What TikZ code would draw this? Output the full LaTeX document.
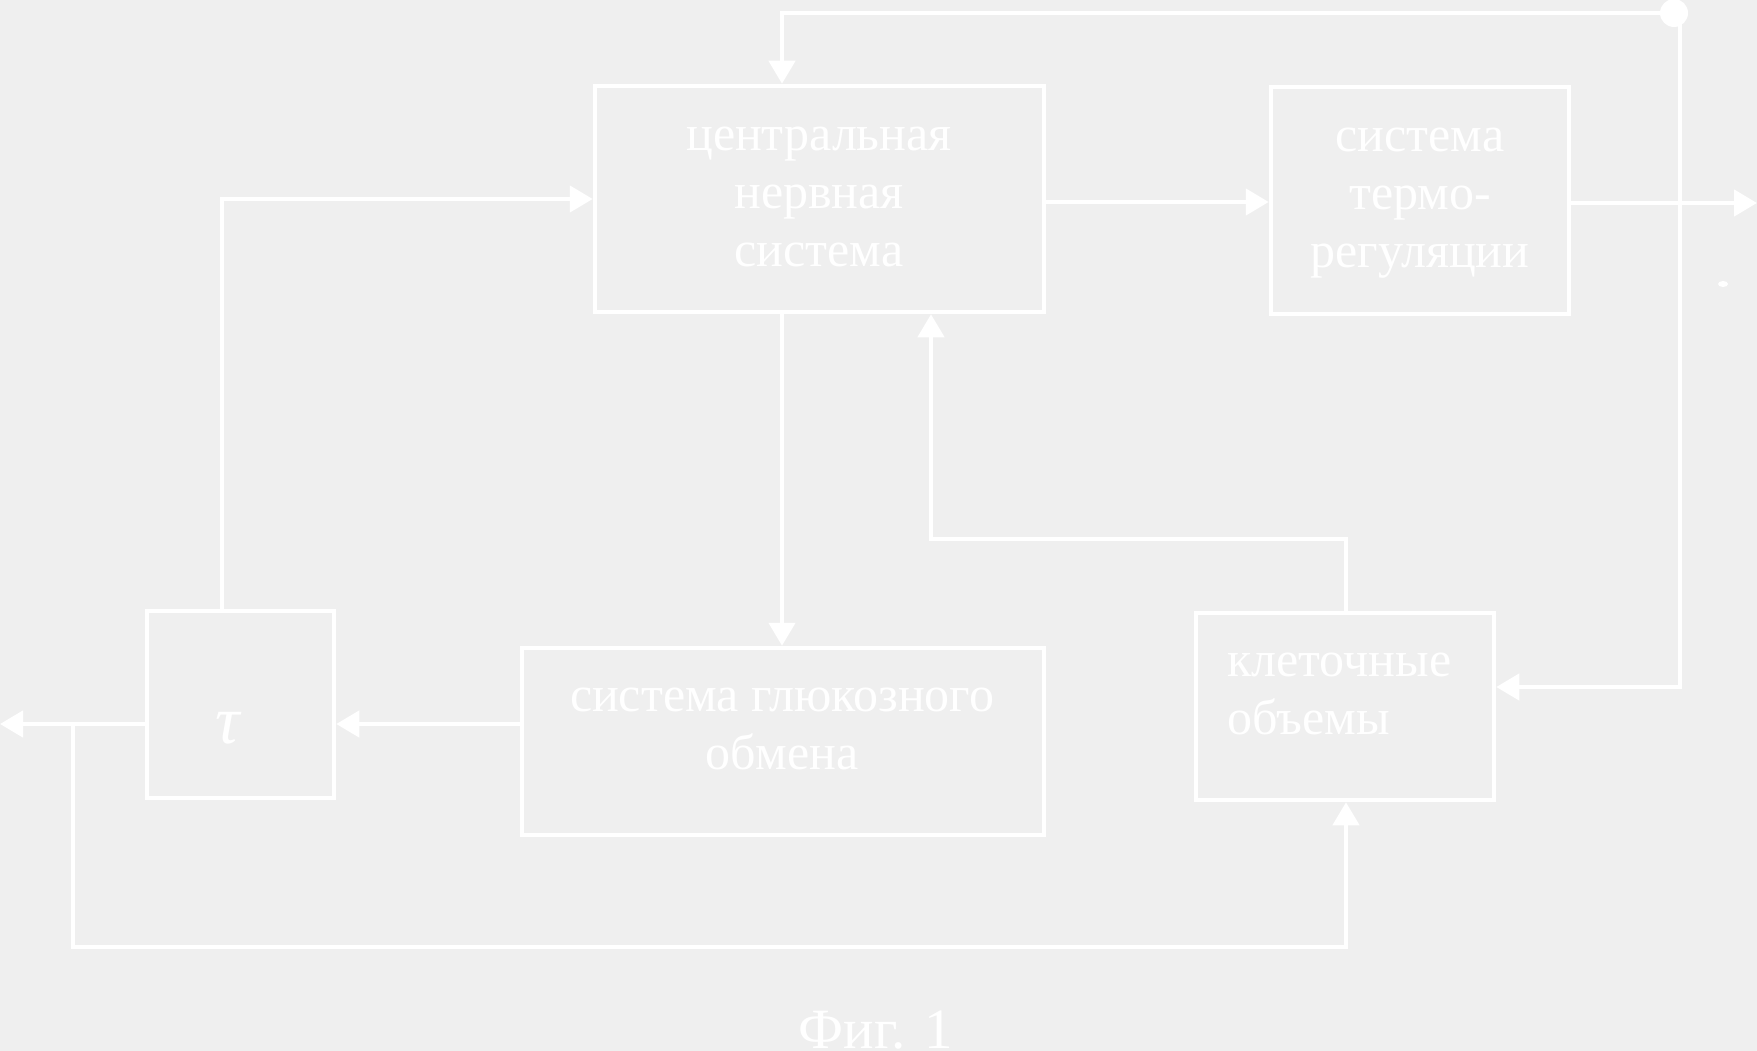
\documentclass[tikz,border=0pt]{standalone}
\usepackage{fontspec}
\setmainfont{Liberation Serif}
\usetikzlibrary{arrows.meta}
\definecolor{bgc}{HTML}{EFEFEF}
\begin{document}
\begin{tikzpicture}[x=1pt,y=-1pt,
 line/.style={draw=white,line width=4.5pt},
 arr/.style={line, -{Triangle[length=23pt,width=26pt]}},
 blk/.style={draw=white,line width=4.5pt,inner sep=0pt},
 lbl/.style={text=white,font=\fontsize{50}{58}\selectfont,align=center,inner sep=0pt}]
\fill[bgc] (0,0) rectangle (1757,1051);
\useasboundingbox (0,0) rectangle (1757,1051);
% blocks
\node[blk, minimum width=449pt, minimum height=226pt] (cns) at (819.5,199) {};
\node[blk, minimum width=298pt, minimum height=227pt] (thermo) at (1420,200.5) {};
\node[blk, minimum width=187pt, minimum height=187pt] (tau) at (240.5,704.5) {};
\node[blk, minimum width=522pt, minimum height=187pt] (glu) at (783,741.5) {};
\node[blk, minimum width=298pt, minimum height=187pt] (cell) at (1345,706.5) {};
% labels
\node[lbl] (cnsT) at (819,197) {центральная\\нервная\\система};
\node[lbl] (thermoT) at (1420,203) {система\\термо-\\регуляции};
\node[lbl] (gluT) at (782,729) {система глюкозного\\обмена};
\node[lbl,anchor=west,align=left] (cellT) at (1227,694) {клеточные\\объемы};
\node[text=white,font=\fontsize{68}{70}\selectfont\itshape,inner sep=0pt] (tauT) at (228,728) {τ};
\node[text=white,font=\fontsize{57}{60}\selectfont,anchor=base,inner sep=0pt] (cap) at (876,1048) {Фиг. 1};
% junction dot
\node[circle,fill=white,minimum size=28pt,inner sep=0pt] (dot) at (1674,13) {};
\coordinate (c1) at (782,13);
\coordinate (c2top) at (1680,13);
\coordinate (c2) at (1680,687);
\coordinate (out1) at (1757,203);
\coordinate (l1) at (222,199);
\coordinate (m1) at (1346,539);
\coordinate (m2) at (931,539);
\coordinate (g) at (0,724);
\coordinate (b1) at (73,724);
\coordinate (b2) at (73,947);
% connectors
\draw[arr] (dot.center) -- (c1) -- (c1 |- cns.north);
\draw[arr] (c2top) -- (c2) -- (c2 -| cell.east);
\draw[arr] (cns.east |- 0,202) -- (thermo.west |- 0,202);
\draw[arr] (thermo.east |- out1) -- (out1);
\draw[arr] (tau.north -| l1) -- (l1) -- (l1 -| cns.west);
\draw[arr] (cns.south -| c1) -- (glu.north -| c1);
\draw[arr] (cell.north -| m1) -- (m1) -- (m2) -- (m2 |- cns.south);
\draw[arr] (glu.west |- g) -- (tau.east |- g);
\draw[arr] (tau.west |- g) -- (g);
\draw[arr] (b1) -- (b2) -- (b2 -| m1) -- (m1 |- cell.south);
% small mark
\fill[white] (1723,284) ellipse (5pt and 3pt);
\end{tikzpicture}
\end{document}
